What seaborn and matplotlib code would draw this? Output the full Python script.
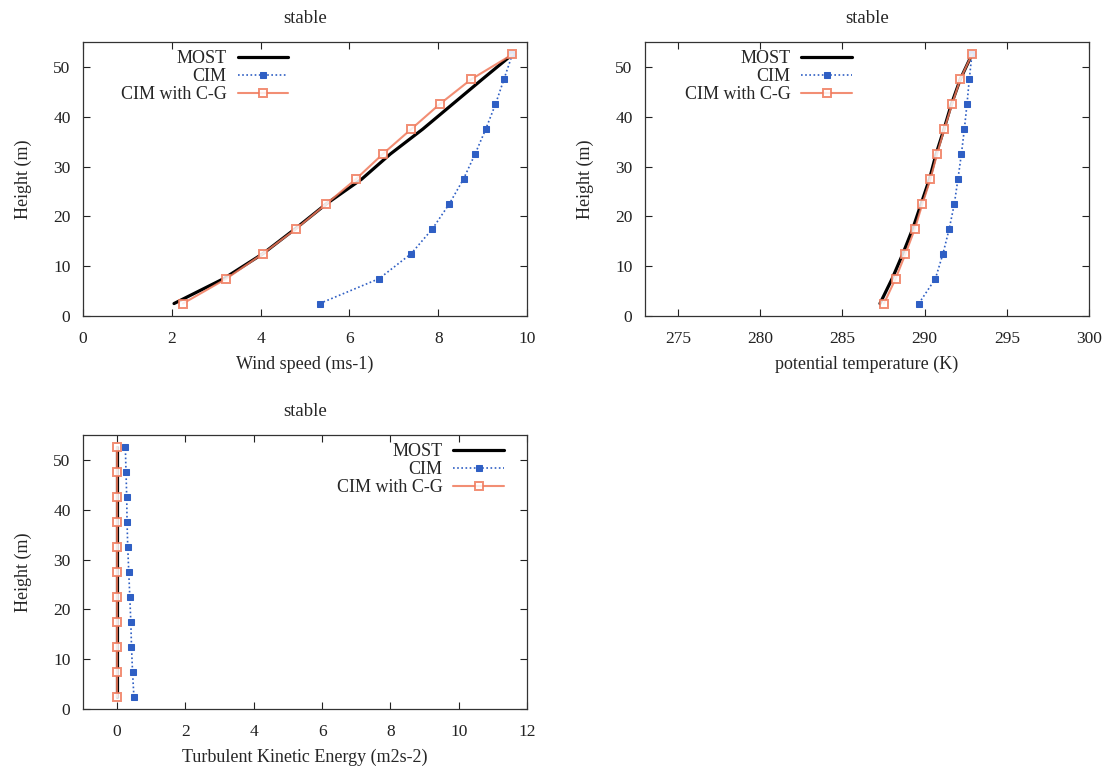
import numpy as np
import pandas as pd
import matplotlib
matplotlib.use("Agg")
import matplotlib.pyplot as plt
import seaborn as sns

heights = [2.5, 7.5, 12.5, 17.5, 22.5, 27.5, 32.5, 37.5, 42.5, 47.5, 52.5]

wind_most = [2.05, 3.17, 4.05, 4.78, 5.48, 6.28, 6.92, 7.65, 8.32, 8.99, 9.67]
wind_cim = [5.33, 6.67, 7.39, 7.87, 8.25, 8.57, 8.83, 9.07, 9.29, 9.48, 9.67]
wind_cg = [2.25, 3.23, 4.05, 4.80, 5.48, 6.15, 6.75, 7.39, 8.03, 8.74, 9.67]

theta_most = [287.29, 288.03, 288.68, 289.28, 289.79, 290.30, 290.70, 291.18, 291.63, 292.17, 292.88]
theta_cim = [289.65, 290.66, 291.12, 291.50, 291.81, 292.03, 292.24, 292.42, 292.58, 292.72, 292.88]
theta_cg = [287.53, 288.24, 288.84, 289.41, 289.87, 290.36, 290.76, 291.20, 291.67, 292.17, 292.88]

tke_most = [0.0] * 11
tke_cim = [0.49, 0.45, 0.42, 0.40, 0.37, 0.34, 0.31, 0.29, 0.28, 0.26, 0.24]
tke_cg = [0.0] * 11

series_names = ["MOST", "CIM", "CIM with C-G"]
panel_titles = ["stable", "stable", "stable"]
xlabels = ["Wind speed (ms-1)", "potential temperature (K)", "Turbulent Kinetic Energy (m2s-2)"]
ylabel = "Height (m)"

sns.set_theme(style="ticks")
plt.rcParams["font.family"] = ["Liberation Serif", "DejaVu Serif"]
plt.rcParams["xtick.direction"] = "in"
plt.rcParams["ytick.direction"] = "in"

W, H = 1109, 769
fig = plt.figure(figsize=(W / 100, H / 100), dpi=100)

def axrect(l, r, t, b):
    return [l / W, 1 - b / H, (r - l) / W, (b - t) / H]

ax1 = fig.add_axes(axrect(83, 527, 42, 316))
ax2 = fig.add_axes(axrect(645, 1089, 42, 316))
ax3 = fig.add_axes(axrect(83, 527, 435, 709))

blue = "#2f5fc4"
salmon = "#f07a5c"

def draw(ax, most, cim, cg, xlim, xticks, xlabel, title, leg_anchor):
    sns.lineplot(x=most, y=heights, sort=False, estimator=None, ax=ax,
                 color="black", lw=2.3, label=series_names[0])
    sns.lineplot(x=cim, y=heights, sort=False, estimator=None, ax=ax,
                 color=blue, lw=1.2, ls=(0, (1, 1.5)), marker="s", markersize=4.5,
                 markerfacecolor=blue, markeredgecolor=blue, label=series_names[1])
    sns.lineplot(x=cg, y=heights, sort=False, estimator=None, ax=ax,
                 color=salmon, lw=1.5, alpha=0.85, marker="s", markersize=5.5,
                 markerfacecolor="white", markeredgecolor=salmon, markeredgewidth=1.4,
                 label=series_names[2])
    ax.set_xlim(*xlim)
    ax.set_ylim(0, 55)
    ax.set_xticks(xticks)
    ax.set_yticks([0, 10, 20, 30, 40, 50])
    ax.tick_params(axis="both", which="both", direction="in", top=True, right=True,
                   labelsize=12.5, length=5, width=0.8, colors="#222222")
    ax.tick_params(axis="x", pad=11)
    ax.tick_params(axis="y", pad=9)
    for s in ax.spines.values():
        s.set_color("#333333")
        s.set_linewidth(0.9)
    ax.set_xlabel(xlabel, fontsize=13, labelpad=6)
    ax.set_ylabel(ylabel, fontsize=13, labelpad=15)
    ax.set_title(title, fontsize=13.5, pad=14)
    ax.legend(loc="upper right", bbox_to_anchor=leg_anchor, frameon=False,
              markerfirst=False, fontsize=13, handlelength=2.8,
              handletextpad=0.6, labelspacing=0.05, borderpad=0, borderaxespad=0)

draw(ax1, wind_most, wind_cim, wind_cg, (0, 10), [0, 2, 4, 6, 8, 10], xlabels[0], panel_titles[0], (0.462, 0.97))
draw(ax2, theta_most, theta_cim, theta_cg, (273, 300), [275, 280, 285, 290, 295, 300], xlabels[1], panel_titles[1], (0.466, 0.97))
draw(ax3, tke_most, tke_cim, tke_cg, (-1, 12), [0, 2, 4, 6, 8, 10, 12], xlabels[2], panel_titles[2], (0.948, 0.97))

fig.savefig("out.png", dpi=100)
